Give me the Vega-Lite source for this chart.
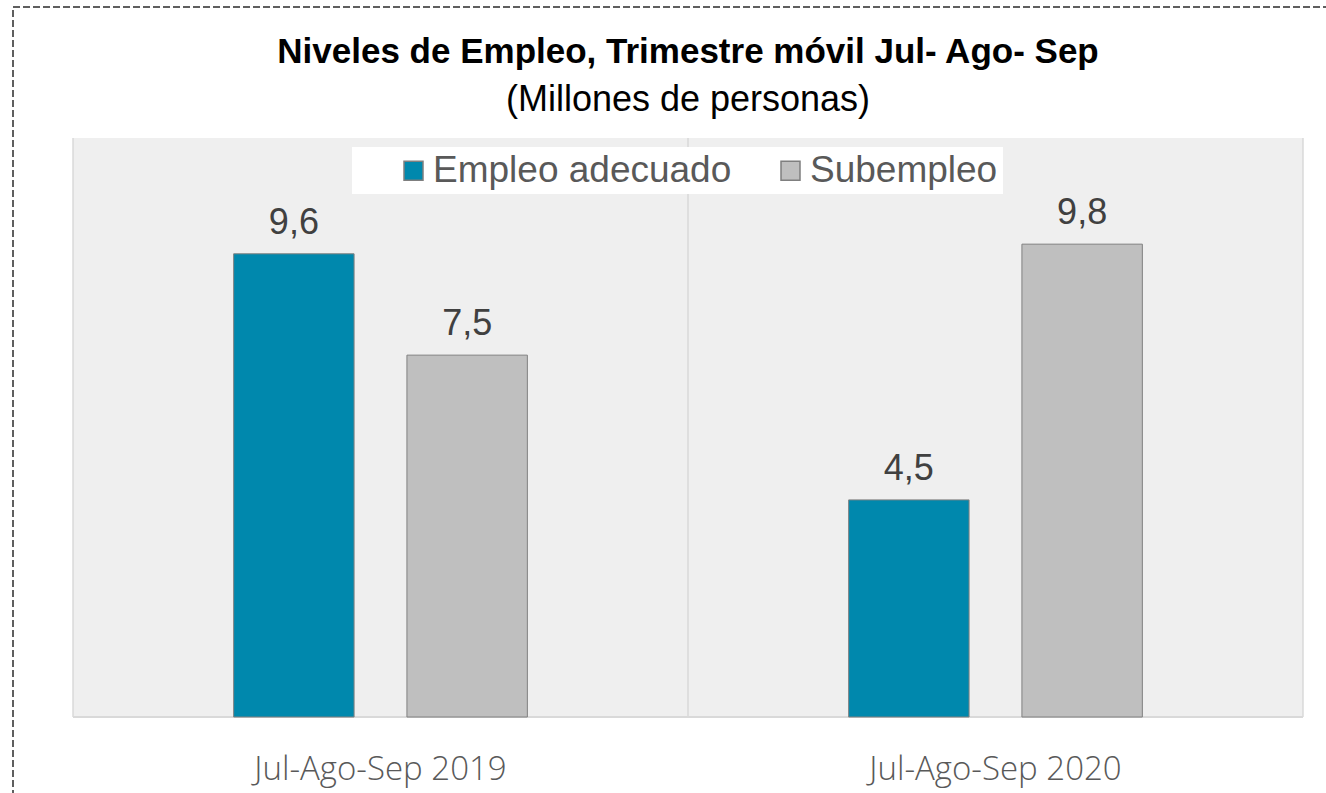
{
  "$schema": "https://vega.github.io/schema/vega-lite/v6.json",
  "width": 1350,
  "height": 800,
  "autosize": {"type": "none"},
  "padding": {"left": 13, "top": 7, "right": -37, "bottom": -14},
  "background": "white",
  "config": {
    "locale": {"number": {"decimal": ",", "thousands": ".", "grouping": [3], "currency": ["", ""]}},
    "view": {"stroke": "#5f5f5f", "strokeWidth": 2, "strokeDash": [7, 3], "fill": "white"},
    "font": "Liberation Sans"
  },
  "title": {
    "text": "Niveles de Empleo, Trimestre móvil Jul- Ago- Sep",
    "subtitle": "(Millones de personas)",
    "anchor": "middle",
    "frame": "group",
    "offset": -111,
    "font": "Liberation Sans",
    "fontSize": 35,
    "fontWeight": "bold",
    "color": "#000000",
    "subtitleFont": "Liberation Sans",
    "subtitleFontSize": 36,
    "subtitleColor": "#000000",
    "subtitlePadding": 13
  },
  "datasets": {
    "bg": [
      {"periodo": "Jul-Ago-Sep 2019"},
      {"periodo": "Jul-Ago-Sep 2020"}
    ],
    "empleo": [
      {"periodo": "Jul-Ago-Sep 2019", "serie": "Empleo adecuado", "valor": 9.6},
      {"periodo": "Jul-Ago-Sep 2019", "serie": "Subempleo", "valor": 7.5},
      {"periodo": "Jul-Ago-Sep 2020", "serie": "Empleo adecuado", "valor": 4.5},
      {"periodo": "Jul-Ago-Sep 2020", "serie": "Subempleo", "valor": 9.8}
    ]
  },
  "layer": [
    {
      "data": {"name": "bg"},
      "mark": {"type": "rect", "fill": "#efefef"},
      "encoding": {
        "x": {
          "field": "periodo",
          "type": "nominal",
          "scale": {"domain": ["Jul-Ago-Sep 2019", "Jul-Ago-Sep 2020"], "paddingInner": 0, "paddingOuter": 0.0976},
          "axis": {
            "title": null,
            "orient": "bottom",
            "offset": -28,
            "domain": false,
            "ticks": false,
            "grid": false,
            "labelPadding": 0,
            "labelBaseline": "alphabetic",
            "labelFont": "Open Sans",
            "labelFontWeight": 300,
            "labelFontSize": 33,
            "labelColor": "#595959",
            "labelAngle": 0,
            "labelLimit": 600
          }
        },
        "y": {
          "datum": 12,
          "type": "quantitative",
          "scale": {"domain": [-1.865, 14.715], "nice": false, "zero": false},
          "axis": null
        },
        "y2": {"datum": 0}
      }
    },
    {
      "data": {"name": "bg"},
      "mark": {"type": "rule", "color": "#d9d9d9", "strokeWidth": 1.5},
      "encoding": {
        "x": {"field": "periodo", "type": "nominal", "bandPosition": 0},
        "y": {"datum": 0, "type": "quantitative"},
        "y2": {"datum": 12}
      }
    },
    {
      "data": {"name": "bg"},
      "transform": [{"filter": "datum.periodo === 'Jul-Ago-Sep 2020'"}],
      "mark": {"type": "rule", "color": "#d9d9d9", "strokeWidth": 1.5},
      "encoding": {
        "x": {"field": "periodo", "type": "nominal", "bandPosition": 1},
        "y": {"datum": 0, "type": "quantitative"},
        "y2": {"datum": 12}
      }
    },
    {
      "data": {"name": "bg"},
      "mark": {"type": "rect", "fillOpacity": 0, "stroke": "#d9d9d9", "strokeWidth": 2},
      "encoding": {
        "x": {"field": "periodo", "type": "nominal"},
        "y": {"datum": 0, "type": "quantitative"},
        "y2": {"datum": 0}
      }
    },
    {
      "data": {"name": "empleo"},
      "mark": {"type": "bar", "stroke": "#808080", "strokeWidth": 1},
      "encoding": {
        "x": {"field": "periodo", "type": "nominal"},
        "xOffset": {
          "field": "serie",
          "type": "nominal",
          "scale": {"domain": ["Empleo adecuado", "Subempleo"], "paddingInner": 0.305, "paddingOuter": 0.927}
        },
        "y": {"field": "valor", "type": "quantitative"},
        "y2": {"datum": 0},
        "color": {
          "field": "serie",
          "type": "nominal",
          "scale": {"domain": ["Empleo adecuado", "Subempleo"], "range": ["#0088ad", "#bfbfbf"]},
          "legend": {
            "orient": "none",
            "legendX": 339,
            "legendY": 140,
            "direction": "horizontal",
            "title": null,
            "fillColor": "white",
            "padding": 5,
            "symbolType": "square",
            "symbolSize": 361,
            "symbolStrokeColor": "#7f7f7f",
            "symbolStrokeWidth": 1.5,
            "symbolOffset": 38,
            "labelFont": "Liberation Sans",
            "labelFontSize": 37,
            "labelColor": "#595959",
            "labelOffset": 1,
            "columnPadding": 2,
            "labelLimit": 600
          }
        }
      }
    },
    {
      "data": {"name": "empleo"},
      "mark": {"type": "text", "dy": -20, "baseline": "alphabetic", "fontSize": 36, "color": "#404040", "font": "Liberation Sans"},
      "encoding": {
        "x": {"field": "periodo", "type": "nominal"},
        "xOffset": {"field": "serie", "type": "nominal"},
        "y": {"field": "valor", "type": "quantitative"},
        "text": {"field": "valor", "type": "quantitative", "format": ".1f"}
      }
    }
  ]
}
